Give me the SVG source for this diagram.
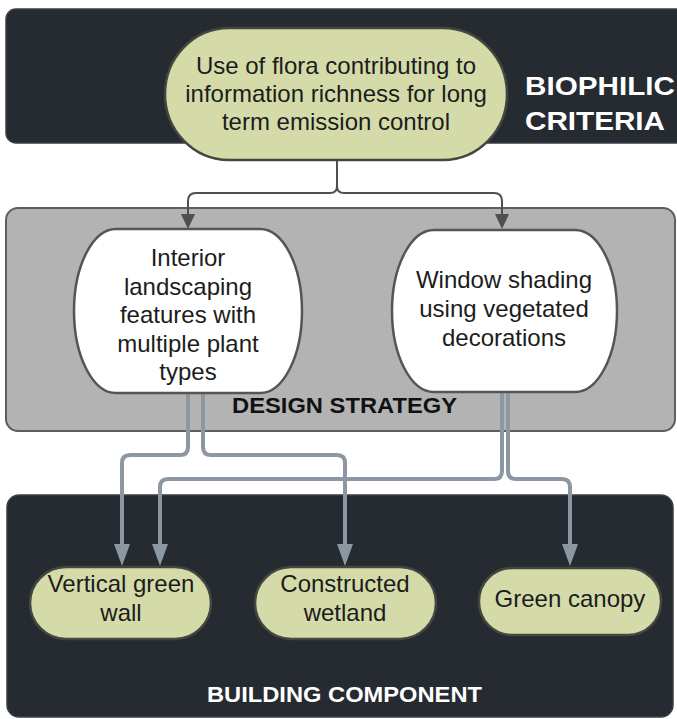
<svg xmlns="http://www.w3.org/2000/svg" width="677" height="719" viewBox="0 0 677 719">
  <defs>
    <style>
      .band-dark { fill: #262a31; stroke: #3a3e45; stroke-width: 1.5; }
      .band-grey { fill: #b3b3b3; stroke: #5e5e5e; stroke-width: 2; }
      .leaf { fill: #d4dba9; stroke: #44473f; stroke-width: 2.5; }
      .strategy { fill: #ffffff; stroke: #555555; stroke-width: 2.5; }
      .txt { font-family: "Liberation Sans", Arial, sans-serif; font-size: 24px; fill: #1c1c1c; text-anchor: middle; }
      .band-label { font-family: "Liberation Sans", Arial, sans-serif; font-weight: bold; }
      .thin { fill: none; stroke: #4f4f4f; stroke-width: 2; }
      .thick { fill: none; stroke: #8d97a2; stroke-width: 4; }
    </style>
    <marker id="head-dark" markerUnits="userSpaceOnUse" markerWidth="14" markerHeight="16" refX="7" refY="15" orient="auto-start-reverse" viewBox="0 0 14 16">
      <path d="M0,0 L14,0 L7,16 Z" fill="#4f4f4f" transform="rotate(0)"/>
    </marker>
    <marker id="head-grey" markerUnits="userSpaceOnUse" markerWidth="16" markerHeight="22" refX="8" refY="21" viewBox="0 0 16 22" orient="0">
      <path d="M0,0 L16,0 L8,22 Z" fill="#8d97a2"/>
    </marker>
  </defs>

  <!-- background bands -->
  <rect x="0" y="0" width="677" height="719" fill="#ffffff"/>
  <rect id="band-criteria" class="band-dark" x="6" y="9" width="690" height="134" rx="10"/>
  <rect id="band-strategy" class="band-grey" x="6" y="208" width="669" height="223" rx="12"/>
  <rect id="band-component" class="band-dark" x="7" y="495" width="666" height="222" rx="12"/>

  <text class="band-label" x="525" y="95" font-size="26" fill="#ffffff" textLength="150" lengthAdjust="spacingAndGlyphs">BIOPHILIC</text>
  <text class="band-label" x="525" y="130" font-size="26" fill="#ffffff" textLength="140" lengthAdjust="spacingAndGlyphs">CRITERIA</text>
  <text class="band-label" x="232" y="413" font-size="22" fill="#111111" textLength="225" lengthAdjust="spacingAndGlyphs">DESIGN STRATEGY</text>
  <text class="band-label" x="207" y="702" font-size="22" fill="#ffffff" textLength="275" lengthAdjust="spacingAndGlyphs">BUILDING COMPONENT</text>

  <!-- connectors -->
  <g id="connectors">
    <path class="thin" d="M337,160 V186 Q337,193 330,193 H196 Q188,193 188,201 V214" />
    <path class="thin" d="M337,186 Q337,193 344,193 H494 Q502,193 502,201 V214" />
    <path d="M181,214 L195,214 L188,229 Z" fill="#4f4f4f"/>
    <path d="M495,214 L509,214 L502,229 Z" fill="#4f4f4f"/>

    <path class="thick" d="M188,393 V447 Q188,455 180,455 H130 Q122,455 122,463 V546" />
    <path class="thick" d="M203,393 V447 Q203,455 211,455 H337 Q345,455 345,463 V546" />
    <path class="thick" d="M502,393 V471 Q502,479 494,479 H168 Q160,479 160,487 V546" />
    <path class="thick" d="M508,393 V471 Q508,479 516,479 H562 Q570,479 570,487 V546" />
    <path d="M114,544 L130,544 L122,566 Z" fill="#8d97a2"/>
    <path d="M152,544 L168,544 L160,566 Z" fill="#8d97a2"/>
    <path d="M337,544 L353,544 L345,566 Z" fill="#8d97a2"/>
    <path d="M562,544 L578,544 L570,566 Z" fill="#8d97a2"/>
  </g>

  <!-- criteria node -->
  <g id="node-flora">
    <rect class="leaf" x="165" y="28" width="342" height="132" rx="64" ry="66"/>
    <text class="txt" x="336" y="74">Use of flora contributing to</text>
    <text class="txt" x="336" y="102">information richness for long</text>
    <text class="txt" x="336" y="130">term emission control</text>
  </g>

  <!-- strategy nodes -->
  <g id="node-interior">
    <rect class="strategy" x="74" y="229" width="228" height="164" rx="42" ry="82"/>
    <text class="txt" x="188" y="266">Interior</text>
    <text class="txt" x="188" y="295">landscaping</text>
    <text class="txt" x="188" y="323">features with</text>
    <text class="txt" x="188" y="352">multiple plant</text>
    <text class="txt" x="188" y="380">types</text>
  </g>
  <g id="node-window">
    <rect class="strategy" x="392" y="230" width="225" height="162" rx="42" ry="81"/>
    <text class="txt" x="504" y="288">Window shading</text>
    <text class="txt" x="504" y="317">using vegetated</text>
    <text class="txt" x="504" y="346">decorations</text>
  </g>

  <!-- component nodes -->
  <g id="node-green-wall">
    <rect class="leaf" x="30" y="567" width="181" height="72" rx="36"/>
    <text class="txt" x="121" y="592">Vertical green</text>
    <text class="txt" x="121" y="621">wall</text>
  </g>
  <g id="node-wetland">
    <rect class="leaf" x="255" y="567" width="181" height="72" rx="36"/>
    <text class="txt" x="345" y="592">Constructed</text>
    <text class="txt" x="345" y="621">wetland</text>
  </g>
  <g id="node-canopy">
    <rect class="leaf" x="479" y="568" width="182" height="67" rx="33"/>
    <text class="txt" x="570" y="607">Green canopy</text>
  </g>
</svg>
